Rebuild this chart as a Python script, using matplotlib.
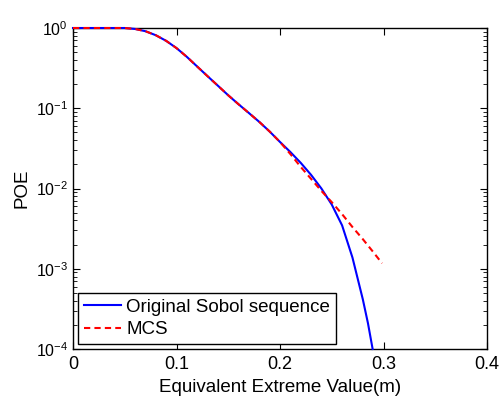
import numpy as np
import matplotlib
matplotlib.use('Agg')
import matplotlib.pyplot as plt
from matplotlib.ticker import LogLocator, NullFormatter

plt.rcParams['font.family'] = ['Liberation Sans', 'DejaVu Sans']

# values
x_common = [0.0, 0.03, 0.05, 0.06, 0.07, 0.08, 0.09, 0.10, 0.11, 0.12, 0.13,
            0.14, 0.15, 0.16, 0.17, 0.18, 0.19, 0.20]
poe_common = [1.0, 1.0, 1.0, 0.973, 0.912, 0.813, 0.692, 0.562, 0.437, 0.331,
              0.251, 0.191, 0.145, 0.112, 0.0871, 0.0676, 0.0513, 0.0380]

x_sobol = x_common + [0.21, 0.22, 0.23, 0.24, 0.25, 0.26, 0.27, 0.28, 0.285, 0.2895]
poe_sobol = poe_common + [0.0285, 0.0209, 0.0148, 0.0100, 0.00631, 0.00347,
                          0.00138, 0.000417, 0.000209, 0.0001]

x_mcs = x_common + [0.21, 0.22, 0.23, 0.24, 0.25, 0.26, 0.27, 0.28, 0.29, 0.2986]
poe_mcs = poe_common + [0.0269, 0.0186, 0.0132, 0.00933, 0.00676, 0.00479,
                        0.00331, 0.00234, 0.00162, 0.00117]

xticks = [0, 0.1, 0.2, 0.3, 0.4]
xticklabels = ['0', '0.1', '0.2', '0.3', '0.4']

fig = plt.figure(figsize=(5.0, 3.99), dpi=100)
ax = fig.add_axes([0.146, 0.1253, 0.828, 0.8045])

ax.semilogy(x_sobol, poe_sobol, color='#0000ff', lw=1.5, clip_on=False, zorder=3,
            label='Original Sobol sequence')
ax.semilogy(x_mcs, poe_mcs, color='#ff0000', lw=1.5, ls=(0, (3, 2)), clip_on=False,
            zorder=3, label='MCS')

ax.set_xlim(0, 0.4)
ax.set_ylim(1e-4, 1)
ax.set_xticks(xticks)
ax.set_xticklabels(xticklabels)
ax.yaxis.set_major_locator(LogLocator(base=10, numticks=10))
ax.yaxis.set_minor_locator(LogLocator(base=10, subs=np.arange(2, 10), numticks=10))
ax.yaxis.set_minor_formatter(NullFormatter())

ax.tick_params(which='both', direction='in', top=True, right=True)
ax.tick_params(axis='x', labelsize=13, pad=5)
ax.tick_params(axis='y', labelsize=11.5)
ax.tick_params(which='major', length=5, width=0.8)
ax.tick_params(which='minor', length=3, width=0.6)
for sp in ax.spines.values():
    sp.set_linewidth(1.0)

ax.set_xlabel('Equivalent Extreme Value(m)', fontsize=13.5)
ax.set_ylabel('POE', fontsize=13.5)

leg = ax.legend(loc='lower left', fontsize=13.5, fancybox=False, framealpha=1,
                edgecolor='black', borderaxespad=0.27, borderpad=0.3,
                handlelength=2.0, handletextpad=0.27, labelspacing=0.3)
leg.get_frame().set_linewidth(1.0)
leg.set_zorder(5)

fig.savefig('out.png', dpi=100)
